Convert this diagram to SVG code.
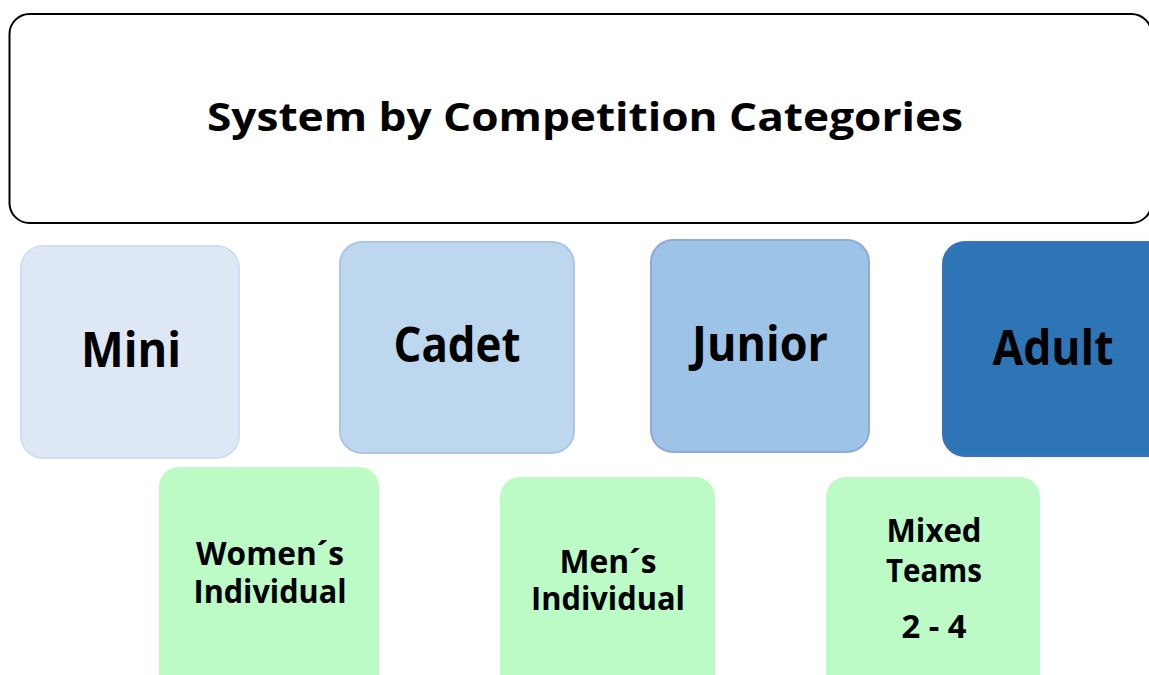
<svg xmlns="http://www.w3.org/2000/svg" width="1149" height="675" viewBox="0 0 1149 675">
<style>
text{font-family:"Open Sans","Liberation Sans",sans-serif;font-weight:bold;fill:#000;text-anchor:middle}
.t{font-size:40px}
.c{font-size:48px}
.g{font-size:32px}
.green{fill:#BCFAC6;stroke:none}
</style>
<rect width="1149" height="675" fill="#fff"/>
<g id="title">
<rect x="9.5" y="14" width="1142" height="209" rx="20" fill="#fff" stroke="#000" stroke-width="2"/>
<text class="t" x="585" y="131" textLength="756" lengthAdjust="spacingAndGlyphs">System by Competition Categories</text>
</g>
<g id="mini">
<rect x="21" y="246" width="218" height="212" rx="22" fill="#DEE8F5" stroke="#D2DEF2" stroke-width="2"/>
<text class="c" x="131" y="367" textLength="100" lengthAdjust="spacingAndGlyphs">Mini</text>
</g>
<g id="cadet">
<rect x="340" y="242" width="234" height="211" rx="22" fill="#BDD7EE" stroke="#ABC5E8" stroke-width="2"/>
<text class="c" x="457" y="362" textLength="127" lengthAdjust="spacingAndGlyphs">Cadet</text>
</g>
<g id="junior">
<rect x="651" y="240" width="218" height="212" rx="22" fill="#9DC3E6" stroke="#8EAADB" stroke-width="2"/>
<text class="c" x="760" y="361" textLength="136" lengthAdjust="spacingAndGlyphs">Junior</text>
</g>
<g id="adult">
<rect x="943" y="242" width="230" height="214" rx="22" fill="#2E75B6" stroke="#3D6FC0" stroke-width="2"/>
<text class="c" x="1053" y="365" textLength="121" lengthAdjust="spacingAndGlyphs">Adult</text>
</g>
<g id="womens">
<rect class="green" x="159" y="467" width="220" height="230" rx="20"/>
<text class="g" x="270" y="565" textLength="148" lengthAdjust="spacingAndGlyphs">Women´s</text>
<text class="g" x="270" y="603" textLength="153" lengthAdjust="spacingAndGlyphs">Individual</text>
</g>
<g id="mens">
<rect class="green" x="500" y="477" width="215" height="220" rx="20"/>
<text class="g" x="608" y="573" textLength="97" lengthAdjust="spacingAndGlyphs">Men´s</text>
<text class="g" x="608" y="610" textLength="154" lengthAdjust="spacingAndGlyphs">Individual</text>
</g>
<g id="mixed">
<rect class="green" x="826" y="477" width="214" height="220" rx="20"/>
<text class="g" x="934" y="542" textLength="95" lengthAdjust="spacingAndGlyphs">Mixed</text>
<text class="g" x="934" y="582" textLength="96" lengthAdjust="spacingAndGlyphs">Teams</text>
<text class="g" x="934" y="638" textLength="65" lengthAdjust="spacingAndGlyphs">2 - 4</text>
</g>
<g id="connectors"></g>
</svg>
